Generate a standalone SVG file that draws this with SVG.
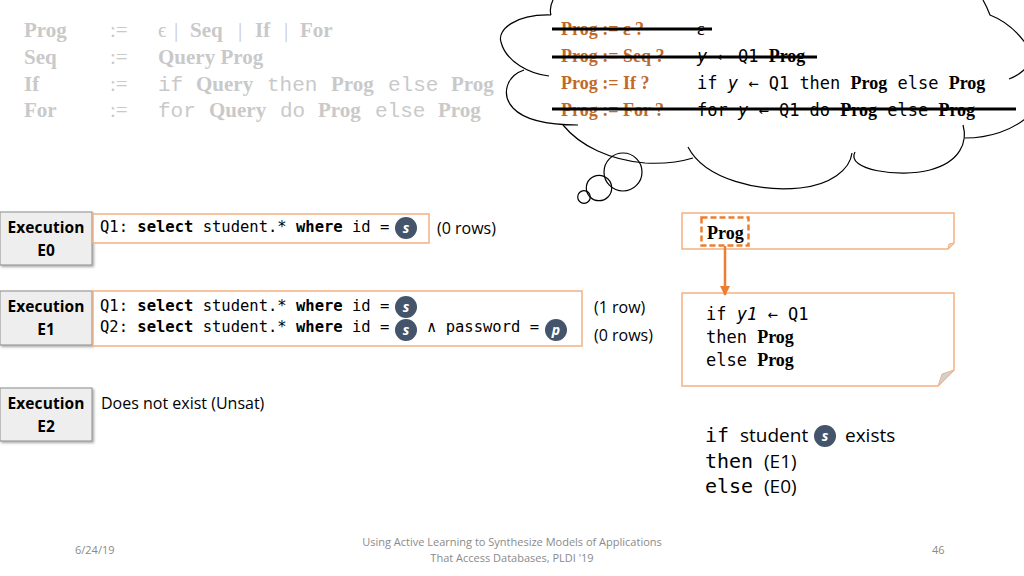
<svg xmlns="http://www.w3.org/2000/svg" width="1024" height="576" viewBox="0 0 1024 576">
<defs>
<style>
.g{fill:#C9C9C9;font-family:"Liberation Serif",serif;font-size:21px}
.gb{font-weight:bold}
.gm{font-family:"Liberation Mono",monospace;font-size:21px}
.or{fill:#C0692A;font-family:"Liberation Serif",serif;font-weight:bold;font-size:18px}
.mono{font-family:"DejaVu Sans Mono",monospace;font-size:17px;fill:#000}
.pb{font-family:"Liberation Serif",serif;font-weight:bold;font-size:18px}
.q{font-family:"DejaVu Sans Mono",monospace;font-size:15.5px;fill:#000}
.b{font-weight:bold}
.cal{font-family:"Open Sans",sans-serif;font-size:16px;fill:#000}
.sm{font-family:"DejaVu Sans Mono",monospace;font-size:20px;fill:#000}
.sc{font-family:"Open Sans",sans-serif;font-size:19px;fill:#000}
.exe{fill:#EEEEEE;stroke:#8C8C8C;stroke-width:1}
.exet{font-family:"Open Sans",sans-serif;font-weight:bold;font-size:15.5px;fill:#000;text-anchor:middle}
.qbox{fill:#fff;stroke:#F4B183;stroke-width:1.5}
.note{fill:#fff;stroke:#F4B183;stroke-width:1.5}
.var{fill:#44546A}
.vt{fill:#fff;font-family:"Open Sans",sans-serif;font-weight:bold;font-style:italic;font-size:14px;text-anchor:middle}
.cl{fill:none;stroke:#000;stroke-width:1.2}
.strike{stroke:#000;stroke-width:3}
.foot{fill:#8A8A8A;font-family:"Open Sans",sans-serif;font-size:11px}
</style>
<marker id="ah" viewBox="0 0 10 10" refX="9" refY="5" markerWidth="4" markerHeight="4" orient="auto"><path d="M0,0 L10,5 L0,10 z" fill="#ED7D31"/></marker>
<filter id="sh" x="-10%" y="-10%" width="130%" height="140%"><feDropShadow dx="1.5" dy="1.5" stdDeviation="0.8" flood-color="#000" flood-opacity="0.35"/></filter>
</defs>
<rect width="1024" height="576" fill="#fff"/>

<g id="grammar">
<text class="g" y="37"><tspan x="24" class="gb">Prog</tspan><tspan x="110">:=</tspan><tspan x="158">ϵ</tspan><tspan x="174">|</tspan><tspan x="190" class="gb">Seq</tspan><tspan x="238">|</tspan><tspan x="255" class="gb">If</tspan><tspan x="284">|</tspan><tspan x="300" class="gb">For</tspan></text>
<text class="g" y="64"><tspan x="24" class="gb">Seq</tspan><tspan x="110">:=</tspan><tspan x="158" class="gb">Query Prog</tspan></text>
<text class="g" y="91"><tspan x="24" class="gb">If</tspan><tspan x="110">:=</tspan><tspan x="158" class="gm">if</tspan><tspan x="196" class="gb">Query</tspan><tspan x="267" class="gm">then</tspan><tspan x="331" class="gb">Prog</tspan><tspan x="388" class="gm">else</tspan><tspan x="451" class="gb">Prog</tspan></text>
<text class="g" y="117"><tspan x="24" class="gb">For</tspan><tspan x="110">:=</tspan><tspan x="158" class="gm">for</tspan><tspan x="209" class="gb">Query</tspan><tspan x="280" class="gm">do</tspan><tspan x="318" class="gb">Prog</tspan><tspan x="375" class="gm">else</tspan><tspan x="438" class="gb">Prog</tspan></text>
</g>

<g id="cloud">
<path class="cl" d="M553,0 Q549,8 551,15"/>
<path class="cl" d="M551,15 C515,14 497,30 501,42 C506,62 530,74 549,76"/>
<path class="cl" d="M524,70 C506,76 501,95 513,108 C526,122 555,125 578,125"/>
<path class="cl" d="M563,125 C580,146 610,160 645,163 C665,164 680,162 693,158"/>
<path class="cl" d="M688,147 C705,180 760,192 800,188 C830,185 850,170 852,153"/>
<path class="cl" d="M855,152 C845,170 900,178 930,170 C960,162 968,142 963,125"/>
<path class="cl" d="M965,138 C990,138 1012,130 1026,118"/>
<path class="cl" d="M1009,79 Q1018,76 1026,68"/>
<path class="cl" d="M983,0 Q987,7 990,15 C1003,20 1016,30 1026,44"/>
<circle class="cl" cx="623" cy="172" r="19"/>
<circle class="cl" cx="599" cy="188" r="12.7"/>
<circle class="cl" cx="584" cy="197" r="6.3"/>
<text class="or" x="561" y="35">Prog := ε ?</text>
<text class="or" x="561" y="62">Prog := Seq ?</text>
<text class="or" x="561" y="89">Prog := If ?</text>
<text class="or" x="561" y="116">Prog := For ?</text>
<text class="mono" x="697" y="35"><tspan font-family="Liberation Serif,serif" font-size="18">ε</tspan></text>
<text class="mono" x="697" y="62"><tspan font-style="italic">y</tspan> ← Q1 <tspan class="pb">Prog</tspan></text>
<text class="mono" x="697" y="89">if <tspan font-style="italic">y</tspan> ← Q1 then <tspan class="pb">Prog</tspan> else <tspan class="pb">Prog</tspan></text>
<text class="mono" x="697" y="116">for <tspan font-style="italic">y</tspan> ← Q1 do <tspan class="pb">Prog</tspan> else <tspan class="pb">Prog</tspan></text>
<line class="strike" x1="552" y1="29" x2="712" y2="29"/>
<line class="strike" x1="552" y1="57" x2="817" y2="57"/>
<line class="strike" x1="552" y1="109" x2="1016" y2="109"/>
</g>

<g id="e0">
<rect class="exe" x="0" y="212" width="92" height="53" filter="url(#sh)"/>
<text class="exet" x="46" y="233" textLength="77">Execution</text>
<text class="exet" x="46" y="256">E0</text>
<rect class="qbox" x="93" y="214" width="336" height="29"/>
<text class="q" x="100" y="232">Q1: <tspan class="b">select</tspan> student.* <tspan class="b">where</tspan> id =</text>
<circle class="var" cx="406" cy="228" r="11"/><text class="vt" x="406" y="233">s</text>
<text class="cal" x="437" y="234">(0 rows)</text>
</g>

<g id="e1">
<rect class="exe" x="0" y="291" width="92" height="54" filter="url(#sh)"/>
<text class="exet" x="46" y="312" textLength="77">Execution</text>
<text class="exet" x="46" y="335">E1</text>
<rect class="qbox" x="93" y="291" width="489" height="55"/>
<text class="q" x="100" y="311">Q1: <tspan class="b">select</tspan> student.* <tspan class="b">where</tspan> id =</text>
<text class="q" x="100" y="332">Q2: <tspan class="b">select</tspan> student.* <tspan class="b">where</tspan> id =</text>
<text class="q" x="427" y="332">∧ password =</text>
<circle class="var" cx="406" cy="307" r="11"/><text class="vt" x="406" y="312">s</text>
<circle class="var" cx="406" cy="330" r="11"/><text class="vt" x="406" y="335">s</text>
<circle class="var" cx="556" cy="330" r="11"/><text class="vt" x="556" y="335">p</text>
<text class="cal" x="594" y="313">(1 row)</text>
<text class="cal" x="594" y="341">(0 rows)</text>
</g>

<g id="e2">
<rect class="exe" x="0" y="388" width="92" height="53" filter="url(#sh)"/>
<text class="exet" x="46" y="409" textLength="77">Execution</text>
<text class="exet" x="46" y="432">E2</text>
<text class="cal" x="101" y="409">Does not exist (Unsat)</text>
</g>

<g id="note1">
<path class="note" d="M682,213 H954 V243 L948,249 H682 Z"/>
<path d="M948,249 L954,243 L949,244 Z" fill="#D9D9D9" stroke="#F4B183" stroke-width="1"/>
<rect x="701.5" y="217.5" width="47" height="28" fill="none" stroke="#ED7D31" stroke-width="2.5" stroke-dasharray="6,3"/>
<text class="pb" x="707" y="239">Prog</text>
</g>

<g id="note2">
<path class="note" d="M682,293 H954 V370 L938,386 H682 Z"/>
<path d="M938,386 L954,370 L942,374 Z" fill="#D0D0D0" stroke="#F4B183" stroke-width="1"/>
<text class="mono" x="706" y="320">if <tspan font-style="italic">y1</tspan> ← Q1</text>
<text class="mono" x="706" y="343">then <tspan class="pb">Prog</tspan></text>
<text class="mono" x="706" y="366">else <tspan class="pb">Prog</tspan></text>
</g>

<g id="connectors">
<line x1="725" y1="246" x2="725" y2="295" stroke="#ED7D31" stroke-width="2.5" marker-end="url(#ah)"/>
</g>

<g id="summary">
<text class="sm" x="705" y="442">if</text>
<text class="sc" x="740" y="442">student</text>
<circle class="var" cx="825" cy="436" r="11"/><text class="vt" x="825" y="441">s</text>
<text class="sc" x="845" y="442">exists</text>
<text class="sm" x="705" y="468">then</text>
<text class="sc" x="764" y="468">(E1)</text>
<text class="sm" x="705" y="493">else</text>
<text class="sc" x="764" y="493">(E0)</text>
</g>

<g id="footer">
<text class="foot" x="75" y="554">6/24/19</text>
<text class="foot" x="512" y="546" text-anchor="middle">Using Active Learning to Synthesize Models of Applications</text>
<text class="foot" x="512" y="562" text-anchor="middle">That Access Databases, PLDI '19</text>
<text class="foot" x="932" y="554">46</text>
</g>
</svg>
